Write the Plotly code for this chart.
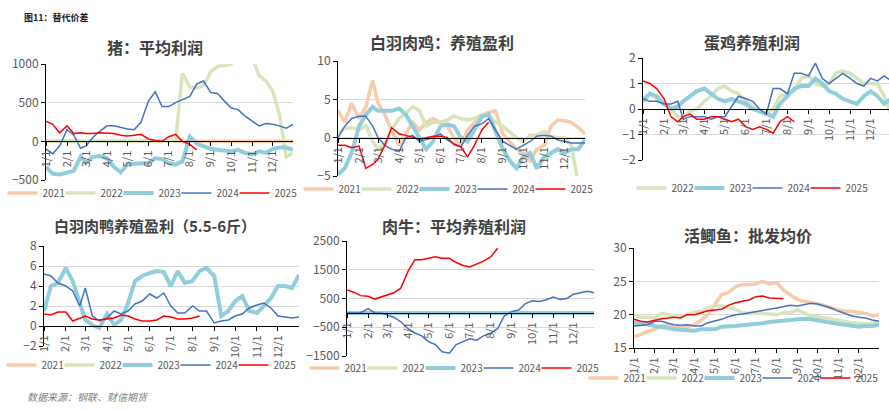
import plotly.graph_objects as go

W, H = 889, 411

# 10-day sampling grid used for all panels (month-day)
grid_days = ["01-01", "01-11", "01-21", "02-01", "02-11", "02-21", "03-01", "03-11", "03-21",
             "04-01", "04-11", "04-21", "05-01", "05-11", "05-21", "06-01", "06-11", "06-21",
             "07-01", "07-11", "07-21", "08-01", "08-11", "08-21", "09-01", "09-11", "09-21",
             "10-01", "10-11", "10-21", "11-01", "11-11", "11-21", "12-01", "12-11", "12-21",
             "12-31"]
dates = ["2021-" + d for d in grid_days]

years = ["2021", "2022", "2023", "2024", "2025"]
colors = {"2021": "#F8CBAD", "2022": "#D8E4BC", "2023": "#92CDDC", "2024": "#4472C4", "2025": "#FF0000"}
widths = {"2021": 3.5, "2022": 3.5, "2023": 4, "2024": 1.5, "2025": 1.5}

# 猪：平均利润
pig_2021 = [0, 0, 0, 0, 0, 0, 0, 0, 0, 0, 0, 0, 0, 0, 0, 0, 0, 0, 0, 0, 0, 0, 0, 0, 0, 0, 0, 0,
            0, 0, 0, 0, 0, 0, 0, 0, 0]
pig_2022 = [0, 0, 0, 0, 0, 0, 0, 0, 0, 0, 0, 0, 0, 0, 0, 0, 0, 0, 0, 0, 880, 700, 690, 720, 900,
            970, 980, 1000, 1150, 1200, 1080, 850, 780, 650, 350, -200, -150]
pig_2023 = [-330, -420, -430, -400, -380, -200, -280, -200, -190, -220, -330, -400, -300, -290,
            -290, -280, -220, -230, -280, -300, -260, 60, -30, -60, -100, -110, -120, -130, -110,
            -150, -170, -130, -150, -100, -80, -80, -110]
pig_2024 = [-100, -160, -60, 150, 80, -90, -60, 50, 130, 200, 200, 180, 160, 150, 250, 520, 640,
            450, 450, 500, 540, 580, 740, 780, 630, 620, 520, 430, 410, 330, 260, 200, 230, 220,
            200, 170, 220]
pig_2025 = [260, 220, 110, 200, 100, 110, 100, 100, 110, 100, 100, 80, 70, 80, 90, 30, 10, 0, 60,
            90, 0, -40, -110]

# 白羽肉鸡：养殖盈利
chicken_2021 = [3.6, 2.0, 4.5, 2.5, 4.0, 7.5, 4.5, 3.0, 1.0, -1.0, 0.5, 2.0, 1.0, 2.0, 2.5, 2.0,
                1.5, 0.0, -1.0, 1.0, 2.0, 3.0, 3.3, 3.5, 0.5, -0.5, -1.5, -2.0, -3.0, -1.5, -1.0,
                1.5, 2.3, 2.2, 2.0, 1.3, 0.5]
chicken_2022 = [0.5, 1.2, 1.3, 1.0, 1.6, -0.5, -1.5, -0.8, 1.0, 2.5, 3.2, 4.0, 3.5, 1.5, 2.0, 2.0,
                2.3, 2.8, 2.5, 2.3, 2.5, 3.0, 2.8, 2.0, 1.5, 0.8, 0.0, -0.5, 0.3, 0.3, 0.8, 0.2,
                0.0, 0.0, -1.0, -6.0]
chicken_2023 = [-4.8, -4.0, -2.0, 1.5, 3.0, 4.0, 3.5, 3.5, 3.5, 3.8, 3.0, 1.5, 0.0, -1.5, -0.5,
                1.5, 1.7, 1.5, 0.0, -0.5, 1.0, 2.8, 3.0, 1.0, -1.5, -3.0, -4.0, -2.5, -2.0, -4.0,
                -2.5, -2.0, -1.5, -2.0, -1.5, -1.5, -0.3]
chicken_2024 = [0.0, 1.5, 2.5, 2.8, 2.8, 1.5, 0.0, -1.0, -1.5, -1.8, 0.0, 0.3, -0.5, -0.3, 0.0,
                0.5, -0.3, -0.8, -1.2, 0.3, 1.5, 1.8, 2.5, 1.0, -0.5, -1.0, -1.5, -1.0, -0.5, 0.2,
                0.3, 0.2, -0.3, -0.5, -0.7, -0.7, -0.7]
chicken_2025 = [-1.0, -1.0, -1.3, -1.1, -4.0, -3.5, -2.8, -1.0, 1.3, 0.5, 0.3, 0.1, -0.2, 0.0,
                0.2, 0.2, 0.0, -0.9, -1.2, -2.5, -1.0, 1.0, 2.0]

# 蛋鸡养殖利润
egg_2022 = [0.4, 0.6, 0.4, 0.2, 0.0, -0.3, -0.3, -0.1, 0.0, 0.3, 0.5, 0.8, 0.9, 0.7, 0.6, 0.3,
            0.1, -0.1, -0.2, 0.0, 0.5, 0.6, 0.7, 1.2, 1.3, 1.0, 0.9, 1.0, 1.4, 1.5, 1.4, 1.2,
            1.0, 1.0, 1.0, 0.5, -0.2]
egg_2023 = [0.3, 0.6, 0.5, 0.2, 0.0, 0.1, 0.3, 0.5, 0.7, 0.8, 0.6, 0.4, 0.3, 0.4, 0.3, 0.2, 0.0,
            -0.1, -0.2, -0.3, 0.2, 0.5, 0.8, 0.9, 0.9, 1.2, 1.0, 0.7, 0.6, 0.4, 0.3, 0.2, 0.5,
            0.7, 0.5, 0.2, 0.4]
egg_2024 = [0.4, 0.3, 0.3, 0.2, 0.2, 0.3, -0.4, -0.3, -0.3, -0.3, -0.4, -0.3, -0.3, 0.1, 0.5,
            0.4, 0.3, 0.0, -0.2, 0.8, 0.8, 0.6, 1.4, 1.4, 1.3, 1.8, 1.2, 1.0, 1.2, 1.4, 1.2, 1.0,
            0.9, 1.2, 1.1, 1.3, 1.1]
egg_2025 = [1.1, 1.0, 0.8, 0.4, -0.3, -0.5, -0.3, -0.2, -0.4, -0.4, -0.3, -0.3, -0.4, -0.5,
            -0.4, -0.7, -0.8, -0.7, -0.8, -0.95, -0.5, -0.3, -0.5]

# 白羽肉鸭养殖盈利（5.5-6斤）: no 2021 / 2022 data
duck_2021 = [None]
duck_2022 = [None]
duck_2023 = [1.5, 4.0, 4.3, 5.8, 4.5, 2.5, 0.6, 0.1, -0.2, 1.2, 0.1, 0.6, 2.3, 4.5, 5.0, 5.3,
             5.5, 5.4, 4.0, 5.5, 4.3, 4.5, 5.5, 5.8, 5.0, 1.0, 1.5, 2.5, 3.0, 1.5, 1.3, 2.0, 2.8,
             4.0, 4.0, 3.8, 5.1]
duck_2024 = [5.2, 5.0, 4.3, 4.0, 3.5, 2.0, 3.8, 1.0, 0.5, 0.8, 1.5, 1.2, 1.5, 2.2, 2.5, 3.2,
             2.8, 3.3, 2.0, 1.3, 1.3, 2.0, 1.5, 1.5, 0.3, 0.5, 0.6, 1.0, 1.2, 1.8, 2.1, 2.3, 1.8,
             1.0, 0.9, 0.8, 0.9]
duck_2025 = [1.2, 1.1, 1.4, 1.4, 0.5, 0.8, 1.0, 0.7, 0.6, 0.7, 0.8, 1.1, 1.0, 0.7, 0.5, 0.5, 0.6,
             1.0, 0.9, 0.7, 0.7, 0.8, 1.0]

# 肉牛：平均养殖利润: no 2021 / 2022 data
beef_2021 = [None]
beef_2022 = [None]
beef_2023 = [0, 0, 0, 0, 0, 0, 0, 0, 0, 0, 0, 0, 0, 0, 0, 0, 0, 0, 0, 0, 0, 0, 0, 0, 0, 0, 0, 0,
             0, 0, 0, 0, 0, 0, 0, 0, 0]
beef_2024 = [0, 0, 0, 150, 0, -10, -80, -150, -300, -550, -700, -800, -1000, -1100, -1350, -1400,
             -1100, -1000, -900, -950, -800, -700, -550, -100, 50, 100, 320, 420, 400, 450, 550,
             470, 500, 650, 700, 750, 700]
beef_2025 = [800, 720, 600, 580, 480, 560, 620, 700, 850, 1450, 1850, 1850, 1900, 1950, 1900,
             1900, 1750, 1650, 1600, 1700, 1800, 1950, 2250]

# 活鲫鱼：批发均价
fish_2021 = [16.7, 17.0, 17.5, 17.8, 18.3, 18.5, 18.3, 18.0, 18.2, 18.5, 19.2, 20.0, 21.5, 23.0,
             23.3, 24.2, 24.5, 24.5, 24.6, 25.0, 24.6, 24.8, 23.7, 23.0, 22.3, 22.0, 21.8, 21.5,
             21.4, 21.0, 20.7, 20.5, 20.5, 20.3, 20.2, 19.8, 20.0]
fish_2022 = [20.0, 19.6, 19.6, 19.5, 20.2, 20.0, 19.8, 19.8, 20.0, 20.4, 20.5, 21.0, 21.3, 21.3,
             21.0, 20.8, 20.3, 20.2, 20.3, 20.2, 20.2, 20.0, 20.3, 20.3, 20.7, 20.3, 19.8, 19.7,
             19.5, 19.3, 19.2, 19.0, 18.8, 18.7, 18.6, 18.7, 19.0]
fish_2023 = [18.8, 18.7, 18.6, 18.3, 18.2, 18.0, 17.8, 17.7, 17.6, 17.6, 17.8, 17.8, 17.8, 18.2,
             18.2, 18.3, 18.4, 18.5, 18.5, 18.7, 18.9, 19.0, 19.2, 19.3, 19.4, 19.4, 19.3, 19.1,
             18.9, 18.8, 18.6, 18.5, 18.4, 18.2, 18.3, 18.3, 18.5]
fish_2024 = [18.3, 18.4, 18.5, 19.0, 19.0, 18.7, 18.5, 18.4, 18.5, 18.3, 18.3, 18.8, 19.0, 19.3,
             19.7, 20.0, 20.1, 20.3, 20.4, 20.7, 20.8, 21.0, 21.2, 21.4, 21.3, 21.5, 21.7, 21.6,
             21.3, 21.0, 20.5, 20.1, 19.8, 19.6, 19.5, 19.2, 19.0]
fish_2025 = [19.3, 19.0, 18.9, 19.2, 19.4, 19.5, 19.6, 19.5, 20.0, 20.0, 20.3, 20.6, 20.7, 20.8,
             21.4, 21.8, 22.0, 22.2, 22.7, 22.8, 22.5, 22.5, 22.4]

FONT = "Noto Sans CJK SC, Noto Sans, sans-serif"

# box = (left, right, top, bottom) of each plot area in pixels
panels = [
    dict(title="猪：平均利润", size=16, title_xy=(155, 47), legend_xy=(153, 193),
         series={"2021": pig_2021, "2022": pig_2022, "2023": pig_2023, "2024": pig_2024, "2025": pig_2025},
         yrange=[-500, 1000], dtick=500, box=(46, 293, 64, 180), xend="2021-12-31"),
    dict(title="白羽肉鸡：养殖盈利", size=16, title_xy=(442, 42), legend_xy=(449, 189),
         series={"2021": chicken_2021, "2022": chicken_2022, "2023": chicken_2023,
                 "2024": chicken_2024, "2025": chicken_2025},
         yrange=[-5, 10], dtick=5, box=(338, 585, 61, 176), xend="2021-12-31"),
    dict(title="蛋鸡养殖利润", size=16, title_xy=(752, 42), legend_xy=(753, 188),
         series={"2022": egg_2022, "2023": egg_2023, "2024": egg_2024, "2025": egg_2025},
         yrange=[-2, 2], dtick=1, box=(643, 889, 58, 160), xend="2021-12-28"),
    dict(title="白羽肉鸭养殖盈利（5.5-6斤）", size=15, title_xy=(155, 225), legend_xy=(152, 365),
         series={"2021": duck_2021, "2022": duck_2022, "2023": duck_2023, "2024": duck_2024, "2025": duck_2025},
         yrange=[-2, 8], dtick=2, box=(44, 299, 246, 346), xend="2021-12-31"),
    dict(title="肉牛：平均养殖利润", size=16, title_xy=(454, 226), legend_xy=(455, 368),
         series={"2021": beef_2021, "2022": beef_2022, "2023": beef_2023, "2024": beef_2024, "2025": beef_2025},
         yrange=[-1500, 2500], dtick=1000, box=(347, 594, 241, 356), xend="2021-12-31"),
    dict(title="活鲫鱼：批发均价", size=16, title_xy=(748, 235), legend_xy=(734, 378),
         series={"2021": fish_2021, "2022": fish_2022, "2023": fish_2023, "2024": fish_2024, "2025": fish_2025},
         yrange=[15, 30], dtick=5, box=(634, 879, 248, 348), xend="2021-12-31"),
]

fig = go.Figure()
layout = {}
annotations = []

for i, p in enumerate(panels, start=1):
    sfx = "" if i == 1 else str(i)
    leg = "legend" + sfx
    names = list(p["series"])
    for yr, vals in p["series"].items():
        fig.add_trace(go.Scatter(
            x=dates[:len(vals)], y=vals, name=yr, mode="lines",
            line=dict(color=colors[yr], width=widths[yr]),
            xaxis="x" + sfx, yaxis="y" + sfx, legend=leg, hoverinfo="skip",
            legendwidth=24 if yr == names[-1] else 13,
        ))

    l, r, t, b = p["box"]
    y0, y1 = 1 - b / H, 1 - t / H
    ymin, ymax = p["yrange"]
    if ymin < 0:
        xanchor, xpos = "free", y0 + (0 - ymin) / (ymax - ymin) * (y1 - y0)
    else:
        xanchor, xpos = "y" + sfx, 0

    layout["xaxis" + sfx] = dict(
        domain=[l / W, min(r / W, 1)], type="date", range=["2021-01-01", p["xend"]],
        tick0="2021-01-01", dtick="M1", tickformat="%-m/%-d", tickangle=-90,
        ticks="outside", ticklen=4, tickcolor="black", showline=True, linecolor="black",
        linewidth=1, showgrid=False, zeroline=False, anchor=xanchor, position=xpos,
        tickfont=dict(size=11, color="#595959", family=FONT), fixedrange=True,
    )
    layout["yaxis" + sfx] = dict(
        domain=[y0, y1], range=[ymin, ymax], tick0=ymin, dtick=p["dtick"],
        showline=True, linecolor="black", linewidth=1, ticks="outside", ticklen=4,
        tickcolor="black", showgrid=True, gridcolor="#D9D9D9", gridwidth=1, zeroline=False,
        anchor="x" + sfx, tickfont=dict(size=12, color="#595959", family=FONT), fixedrange=True,
    )
    lx, ly = p["legend_xy"]
    layout[leg] = dict(
        orientation="h", x=lx / W, y=1 - ly / H, xanchor="center", yanchor="middle",
        font=dict(size=10, color="#595959", family=FONT),
        bgcolor="rgba(0,0,0,0)", traceorder="normal", itemclick=False, itemdoubleclick=False,
    )
    tx, ty = p["title_xy"]
    annotations.append(dict(
        text="<b>" + p["title"] + "</b>", x=tx / W, y=1 - ty / H, xref="paper", yref="paper",
        xanchor="center", yanchor="middle", showarrow=False,
        font=dict(size=p["size"], color="#404040", family=FONT),
    ))

annotations.append(dict(
    text="<b>图11：替代价差</b>", x=22 / W, y=1 - 18 / H, xref="paper", yref="paper",
    xanchor="left", yanchor="middle", showarrow=False,
    font=dict(size=9, color="#1a1a1a", family=FONT),
))
annotations.append(dict(
    text="数据来源：钢联、财信期货", x=25 / W, y=1 - 396 / H, xref="paper", yref="paper",
    xanchor="left", yanchor="middle", showarrow=False,
    font=dict(size=10, color="#7F7F7F", family=FONT, style="italic"),
))

fig.update_layout(
    width=W, height=H, margin=dict(l=0, r=0, t=0, b=0, autoexpand=False),
    paper_bgcolor="white", plot_bgcolor="white",
    font=dict(family=FONT, color="#595959"),
    annotations=annotations, hovermode=False,
    **layout,
)

# the page body has a default 8px margin; drop it so the figure fills the window
fig.write_html("out.html", config={"displayModeBar": False},
               post_script="document.body.style.margin = '0';")
